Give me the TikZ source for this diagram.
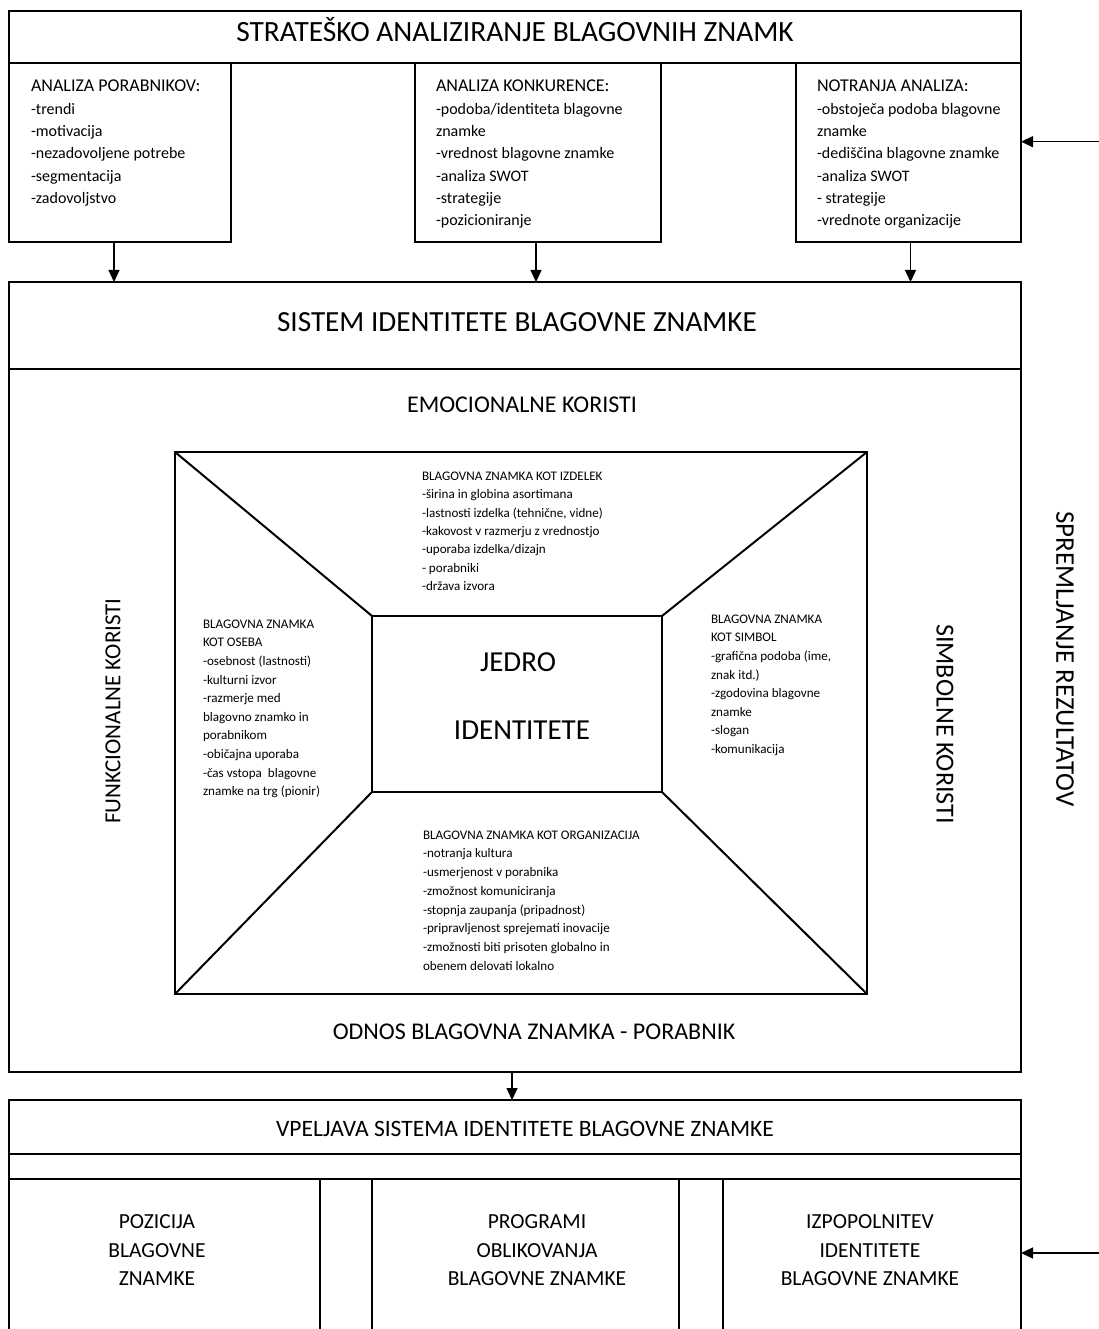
\documentclass[tikz,border=0pt]{standalone}
\usepackage{fontspec}
\setmainfont{Carlito}
\usetikzlibrary{arrows.meta}
\newcommand{\fsz}[2]{\fontsize{#1}{#2}\selectfont}
\begin{document}
\begin{tikzpicture}[x=1pt,y=-1pt,
  frame/.style={draw, line width=1.4pt, inner sep=0pt, outer sep=0pt, anchor=north west},
  heavy/.style={draw, line width=2pt, inner sep=0pt, outer sep=0pt, anchor=north west},
  txt/.style={inner sep=0pt, outer sep=0pt, anchor=north west, align=left},
  lbl/.style={inner sep=0pt, outer sep=0pt, anchor=base},
  flow/.style={-{Triangle[length=12pt,width=11pt]}, line width=1.4pt}]
\useasboundingbox (0,0) rectangle (1099,1329);

% ---------- strategic analysis ----------
\node[frame, minimum width=1012pt, minimum height=52pt] (stra) at (9,11) {};
\node[frame, minimum width=222pt, minimum height=179pt] (cons) at (9,63) {};
\node[frame, minimum width=246pt, minimum height=179pt] (comp) at (415,63) {};
\node[frame, minimum width=225pt, minimum height=179pt] (intl) at (796,63) {};
\node[lbl, font=\fsz{29.4}{34}] (straT) at (515,41.7) {STRATEŠKO ANALIZIRANJE BLAGOVNIH ZNAMK};

\node[txt, font=\fsz{16}{22.3}] (consT) at (31,80.3)
 {{\fsz{18}{22.3}ANALIZA PORABNIKOV:}\\-trendi\\-motivacija\\-nezadovoljene potrebe\\-segmentacija\\-zadovoljstvo};
\node[txt, font=\fsz{16}{22.3}] (compT) at (436,80.3)
 {{\fsz{18}{22.3}ANALIZA KONKURENCE:}\\-podoba/identiteta blagovne\\znamke\\-vrednost blagovne znamke\\-analiza SWOT\\-strategije\\-pozicioniranje};
\node[txt, font=\fsz{16}{22.3}] (intlT) at (817,80.3)
 {{\fsz{18}{22.3}NOTRANJA ANALIZA:}\\-obstoječa podoba blagovne\\znamke\\-dediščina blagovne znamke\\-analiza SWOT\\- strategije\\-vrednote organizacije};

% ---------- identity system ----------
\node[frame, minimum width=1012pt, minimum height=87pt] (sis) at (9,282) {};
\node[frame, minimum width=1012pt, minimum height=703pt] (body) at (9,369) {};
\node[lbl, font=\fsz{29.2}{34}] (sisT) at (517,331) {SISTEM IDENTITETE BLAGOVNE ZNAMKE};
\node[lbl, font=\fsz{24}{28}] (emo) at (522,412) {EMOCIONALNE KORISTI};
\node[lbl, font=\fsz{24}{28}] (odn) at (534,1039) {ODNOS BLAGOVNA ZNAMKA - PORABNIK};
\node[inner sep=0pt, font=\fsz{23}{28}, rotate=90] (fun) at (113,711) {FUNKCIONALNE KORISTI};
\node[inner sep=0pt, font=\fsz{26}{28}, rotate=-90] (sim) at (945,724) {SIMBOLNE KORISTI};
\node[inner sep=0pt, font=\fsz{27}{30}, rotate=-90] (spr) at (1065,659) {SPREMLJANJE REZULTATOV};

% frustum: outer frame, core and the four corner edges
\node[heavy, minimum width=692pt, minimum height=542pt] (trap) at (175,452) {};
\node[heavy, minimum width=290pt, minimum height=176pt] (core) at (372,616) {};
\draw[line width=2pt] (trap.north west) -- (core.north west)
                      (trap.north east) -- (core.north east)
                      (trap.south west) -- (core.south west)
                      (trap.south east) -- (core.south east);
\node[lbl, font=\fsz{29}{34}] (jed1) at (518,671) {JEDRO};
\node[lbl, font=\fsz{29}{34}] (jed2) at (522,739) {IDENTITETE};

\node[txt, font=\fsz{13.1}{18.4}] (prod) at (422,471.7)
 {BLAGOVNA ZNAMKA KOT IZDELEK\\-širina in globina asortimana\\-lastnosti izdelka (tehnične, vidne)\\-kakovost v razmerju z vrednostjo\\-uporaba izdelka/dizajn\\- porabniki\\-država izvora};
\node[txt, font=\fsz{13.1}{18.6}] (pers) at (203,619.7)
 {BLAGOVNA ZNAMKA\\KOT OSEBA\\-osebnost (lastnosti)\\-kulturni izvor\\-razmerje med\\blagovno znamko in\\porabnikom\\-običajna uporaba\\-čas vstopa~ blagovne\\znamke na trg (pionir)};
\node[txt, font=\fsz{13.1}{18.6}] (symb) at (711,614.7)
 {BLAGOVNA ZNAMKA\\KOT SIMBOL\\-grafična podoba (ime,\\znak itd.)\\-zgodovina blagovne\\znamke\\-slogan\\-komunikacija};
\node[txt, font=\fsz{13.1}{18.7}] (orgn) at (423,830.7)
 {BLAGOVNA ZNAMKA KOT ORGANIZACIJA\\-notranja kultura\\-usmerjenost v porabnika\\-zmožnost komuniciranja\\-stopnja zaupanja (pripadnost)\\-pripravljenost sprejemati inovacije\\-zmožnosti biti prisoten globalno in\\obenem delovati lokalno};

% ---------- implementation ----------
\node[frame, minimum width=1012pt, minimum height=54pt] (impl) at (9,1100) {};
\node[frame, minimum width=1012pt, minimum height=25pt] (gap) at (9,1154) {};
\node[lbl, font=\fsz{23.5}{28}] (implT) at (525,1136) {VPELJAVA SISTEMA IDENTITETE BLAGOVNE ZNAMKE};
\begin{scope}
\clip (0,0) rectangle (1099,1329);
\node[frame, minimum width=311pt, minimum height=170pt] (posb) at (9,1179) {};
\node[frame, minimum width=307pt, minimum height=170pt] (prgb) at (372,1179) {};
\node[frame, minimum width=298pt, minimum height=170pt] (cplb) at (723,1179) {};
\end{scope}
\node[txt, align=center, anchor=north, font=\fsz{21.5}{28.5}] (posT) at (157,1215) {POZICIJA\\BLAGOVNE\\ZNAMKE};
\node[txt, align=center, anchor=north, font=\fsz{21.5}{28.5}] (prgT) at (537,1215) {PROGRAMI\\OBLIKOVANJA\\BLAGOVNE ZNAMKE};
\node[txt, align=center, anchor=north, font=\fsz{21.5}{28.5}] (cplT) at (870,1215) {IZPOPOLNITEV\\IDENTITETE\\BLAGOVNE ZNAMKE};

% ---------- connectors ----------
\draw[flow] ([xshift=-6pt]cons.south) -- ([xshift=-6pt]cons.south |- sis.north);
\draw[flow] ([xshift=-2pt]comp.south) -- ([xshift=-2pt]comp.south |- sis.north);
\draw[flow] ([xshift=2pt]intl.south) -- ([xshift=2pt]intl.south |- sis.north);
\draw[flow] ([xshift=-3pt]body.south) -- ([xshift=-3pt]body.south |- impl.north);
\coordinate (fbTop) at (1099,141.7);
\coordinate (fbBot) at (1099,1253);
\draw[flow] (fbTop) -- (fbTop -| intl.east);
\draw[flow] (fbBot) -- (fbBot -| cplb.east);
\end{tikzpicture}
\end{document}
